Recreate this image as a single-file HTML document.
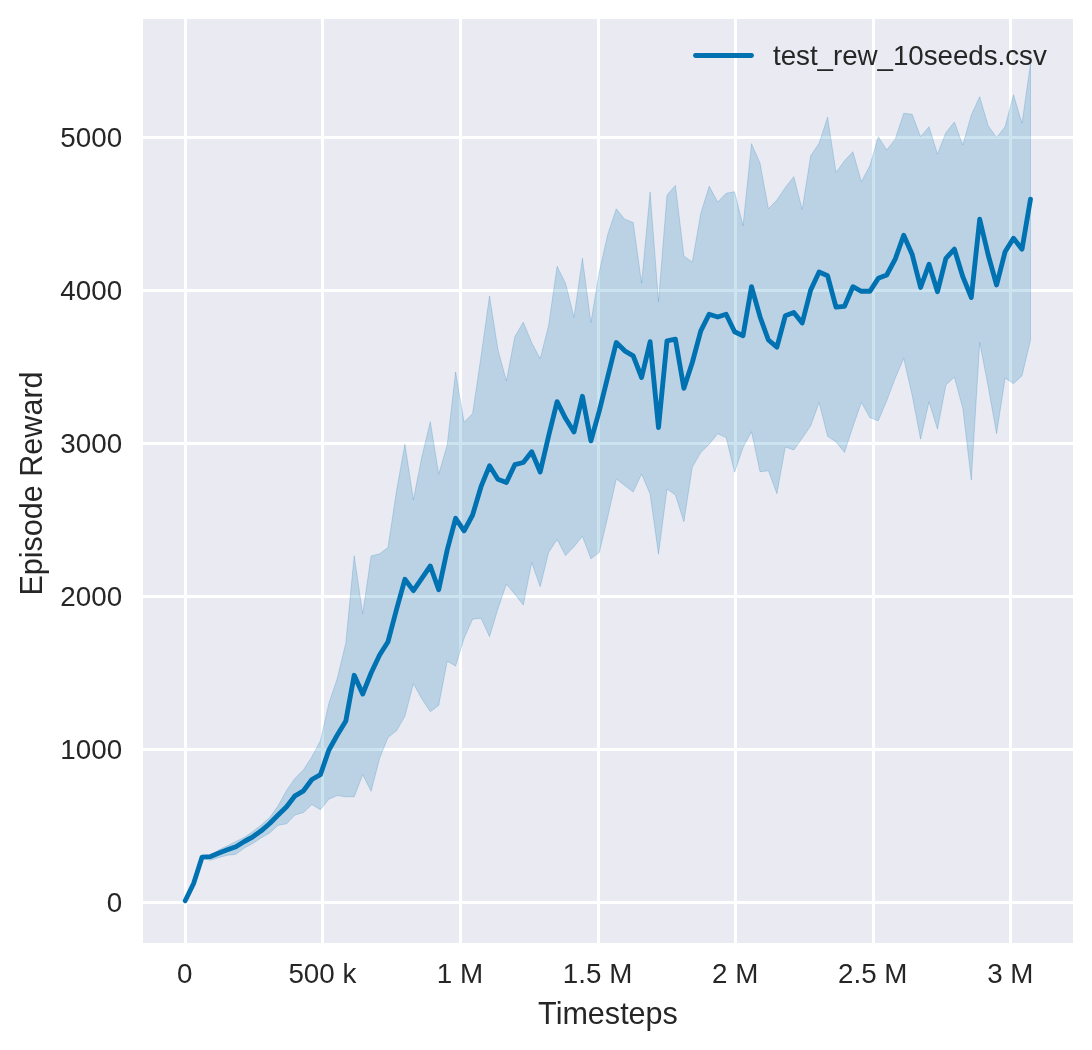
<!DOCTYPE html>
<html><head><meta charset="utf-8"><title>Episode Reward</title>
<style>
html,body{margin:0;padding:0;background:#fff;}
svg{display:block;}
text{font-family:"Liberation Sans",sans-serif;fill:#262626;}
.tk{font-size:27.78px;}
.lb{font-size:30.56px;}
</style></head><body>
<svg width="1092" height="1050" viewBox="0 0 1092 1050">
<rect x="0" y="0" width="1092" height="1050" fill="#ffffff"/>
<rect x="143" y="19" width="930" height="924" fill="#eaeaf2"/>
<rect x="184" y="19" width="3" height="924" fill="#fff"/>
<rect x="321" y="19" width="3" height="924" fill="#fff"/>
<rect x="459" y="19" width="3" height="924" fill="#fff"/>
<rect x="597" y="19" width="3" height="924" fill="#fff"/>
<rect x="734" y="19" width="3" height="924" fill="#fff"/>
<rect x="872" y="19" width="3" height="924" fill="#fff"/>
<rect x="1009" y="19" width="3" height="924" fill="#fff"/>
<rect x="143" y="901" width="930" height="3" fill="#fff"/>
<rect x="143" y="748" width="930" height="3" fill="#fff"/>
<rect x="143" y="595" width="930" height="3" fill="#fff"/>
<rect x="143" y="442" width="930" height="3" fill="#fff"/>
<rect x="143" y="289" width="930" height="3" fill="#fff"/>
<rect x="143" y="136" width="930" height="3" fill="#fff"/>
<polygon points="185.2,900.8 193.6,883.5 202.1,856.5 210.5,855.5 219.0,849.8 227.4,845.8 235.9,841.4 244.3,837.4 252.8,831.5 261.2,825.0 269.7,817.5 278.1,805.8 286.6,790.3 295.0,778.3 303.5,769.7 311.9,756.7 320.4,740.8 328.9,703.3 337.3,678.3 345.8,643.0 354.2,555.8 362.7,613.8 371.1,556.0 379.6,553.8 388.0,547.5 396.5,490.8 404.9,444.2 413.4,499.7 421.8,457.0 430.3,421.7 438.7,474.2 447.2,445.0 455.6,372.0 464.1,422.3 472.6,413.4 481.0,356.7 489.5,295.9 497.9,349.4 506.4,381.0 514.8,336.7 523.3,322.2 531.7,342.6 540.2,358.8 548.6,325.6 557.1,266.3 565.5,283.2 574.0,317.3 582.4,258.3 590.9,322.5 599.3,271.7 607.8,234.2 616.3,208.8 624.7,219.2 633.2,222.5 641.6,283.3 650.1,192.0 658.5,301.7 667.0,195.0 675.4,185.4 683.9,256.0 692.3,262.0 700.8,213.3 709.2,186.3 717.7,202.0 726.1,193.3 734.6,191.7 743.0,225.8 751.5,143.7 760.0,163.0 768.4,208.7 776.9,200.0 785.3,187.5 793.8,176.7 802.2,209.5 810.7,155.8 819.1,143.3 827.6,117.2 836.0,172.5 844.5,160.8 852.9,151.7 861.4,181.7 869.8,165.8 878.3,136.7 886.7,150.0 895.2,139.2 903.7,113.3 912.1,114.2 920.6,136.7 929.0,126.7 937.5,154.2 945.9,132.5 954.4,122.0 962.8,145.0 971.3,115.0 979.7,96.7 988.2,125.8 996.6,137.5 1005.1,126.7 1013.5,94.7 1022.0,123.3 1030.5,63.3 1030.5,340.0 1022.0,375.8 1013.5,383.7 1005.1,378.0 996.6,433.7 988.2,386.7 979.7,342.5 971.3,480.0 962.8,408.3 954.4,377.2 945.9,385.0 937.5,429.2 929.0,401.7 920.6,439.2 912.1,395.0 903.7,358.3 895.2,378.3 886.7,400.8 878.3,420.8 869.8,417.5 861.4,402.5 852.9,426.7 844.5,452.5 836.0,442.0 827.6,436.3 819.1,402.5 810.7,425.8 802.2,438.3 793.8,450.0 785.3,447.0 776.9,493.7 768.4,470.8 760.0,471.7 751.5,431.7 743.0,447.5 734.6,472.2 726.1,437.5 717.7,433.7 709.2,444.2 700.8,452.5 692.3,467.0 683.9,521.7 675.4,495.0 667.0,489.0 658.5,554.2 650.1,494.0 641.6,474.0 633.2,492.0 624.7,485.5 616.3,479.0 607.8,516.7 599.3,552.5 590.9,558.8 582.4,536.3 574.0,546.7 565.5,555.5 557.1,539.5 548.6,552.5 540.2,586.7 531.7,562.5 523.3,605.0 514.8,594.2 506.4,584.2 497.9,609.0 489.5,636.7 481.0,618.3 472.6,619.2 464.1,638.3 455.6,666.0 447.2,661.2 438.7,705.4 430.3,711.7 421.8,698.8 413.4,683.7 404.9,716.3 396.5,730.8 388.0,737.5 379.6,758.3 371.1,791.3 362.7,774.7 354.2,796.7 345.8,796.7 337.3,795.6 328.9,799.2 320.4,809.7 311.9,804.5 303.5,812.5 295.0,815.0 286.6,823.8 278.1,825.3 269.7,833.0 261.2,837.8 252.8,843.5 244.3,848.0 235.9,854.3 227.4,855.3 219.0,857.5 210.5,860.3 202.1,858.0 193.6,883.5 185.2,900.8" fill="#0072b2" fill-opacity="0.2" stroke="#0072b2" stroke-opacity="0.2" stroke-width="1" stroke-linejoin="miter" stroke-miterlimit="30"/>
<polyline points="185.2,900.8 193.6,883.5 202.1,857.1 210.5,856.6 219.0,853.0 227.4,849.8 235.9,846.7 244.3,841.5 252.8,836.8 261.2,830.8 269.7,823.5 278.1,815.0 286.6,806.7 295.0,795.8 303.5,790.8 311.9,779.5 320.4,774.7 328.9,750.0 337.3,735.0 345.8,721.0 354.2,675.3 362.7,694.0 371.1,673.0 379.6,655.0 388.0,641.7 396.5,609.5 404.9,579.3 413.4,590.6 421.8,578.3 430.3,566.0 438.7,589.7 447.2,550.0 455.6,518.3 464.1,530.8 472.6,515.0 481.0,486.7 489.5,465.8 497.9,479.2 506.4,482.5 514.8,464.7 523.3,462.5 531.7,451.7 540.2,472.0 548.6,436.0 557.1,401.7 565.5,418.3 574.0,432.0 582.4,396.3 590.9,440.8 599.3,410.8 607.8,376.7 616.3,342.5 624.7,350.8 633.2,355.8 641.6,377.5 650.1,341.7 658.5,427.5 667.0,340.8 675.4,339.2 683.9,388.3 692.3,362.5 700.8,330.8 709.2,314.2 717.7,317.0 726.1,314.2 734.6,331.7 743.0,335.8 751.5,286.7 760.0,316.7 768.4,340.0 776.9,347.2 785.3,315.8 793.8,312.5 802.2,323.0 810.7,290.0 819.1,272.0 827.6,275.8 836.0,307.2 844.5,306.3 852.9,286.7 861.4,291.3 869.8,291.3 878.3,278.3 886.7,275.0 895.2,259.2 903.7,235.3 912.1,254.2 920.6,287.5 929.0,264.2 937.5,291.7 945.9,258.3 954.4,249.2 962.8,276.7 971.3,297.5 979.7,219.2 988.2,255.0 996.6,285.0 1005.1,251.7 1013.5,238.3 1022.0,249.2 1030.5,199.2" fill="none" stroke="#0072b2" stroke-width="4.86" stroke-linejoin="round" stroke-linecap="round"/>
<text class="tk" x="184.8" y="983" text-anchor="middle">0</text>
<text class="tk" x="322.4" y="983" text-anchor="middle">500 k</text>
<text class="tk" x="460.0" y="983" text-anchor="middle">1 M</text>
<text class="tk" x="597.6" y="983" text-anchor="middle">1.5 M</text>
<text class="tk" x="735.2" y="983" text-anchor="middle">2 M</text>
<text class="tk" x="872.8" y="983" text-anchor="middle">2.5 M</text>
<text class="tk" x="1010.3" y="983" text-anchor="middle">3 M</text>
<text class="tk" x="122.1" y="912.4" text-anchor="end">0</text>
<text class="tk" x="122.1" y="759.3" text-anchor="end">1000</text>
<text class="tk" x="122.1" y="606.3" text-anchor="end">2000</text>
<text class="tk" x="122.1" y="453.3" text-anchor="end">3000</text>
<text class="tk" x="122.1" y="300.3" text-anchor="end">4000</text>
<text class="tk" x="122.1" y="147.3" text-anchor="end">5000</text>
<text class="lb" x="608" y="1023.6" text-anchor="middle">Timesteps</text>
<text class="lb" transform="translate(41.7,483.5) rotate(-90)" text-anchor="middle">Episode Reward</text>
<line x1="695.5" y1="55.5" x2="751.5" y2="55.5" stroke="#0072b2" stroke-width="4.86" stroke-linecap="round"/>
<text class="tk" x="773" y="65.1" textLength="273.8" lengthAdjust="spacing">test_rew_10seeds.csv</text>
</svg>
</body></html>
